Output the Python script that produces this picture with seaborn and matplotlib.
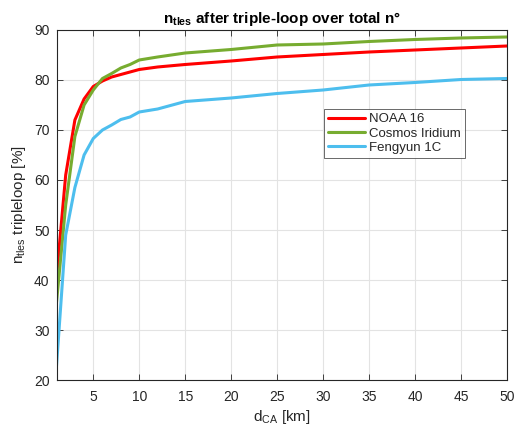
import numpy as np
import pandas as pd
import matplotlib
matplotlib.use("Agg")
import matplotlib.pyplot as plt
import seaborn as sns

# Closest-approach threshold d_CA [km]
d_ca = [1, 2, 3, 4, 5, 6, 7, 8, 9, 10, 12, 15, 20, 25, 30, 35, 40, 45, 50]

# Percentage of TLEs retained after the triple loop
noaa16 = [40.5, 61.0, 72.0, 76.2, 78.7, 79.8, 80.6, 81.1, 81.6, 82.1, 82.6, 83.1, 83.8, 84.6, 85.1, 85.6, 86.0, 86.4, 86.8]
cosmos_iridium = [35.5, 55.0, 68.7, 75.0, 78.0, 80.3, 81.3, 82.4, 83.1, 84.0, 84.6, 85.4, 86.1, 87.0, 87.2, 87.7, 88.1, 88.4, 88.6]
fengyun_1c = [22.8, 49.0, 58.5, 65.0, 68.3, 70.0, 71.0, 72.1, 72.6, 73.6, 74.2, 75.7, 76.4, 77.3, 78.0, 79.0, 79.5, 80.1, 80.3]

series_names = ["NOAA 16", "Cosmos Iridium", "Fengyun 1C"]
colors = ["#ff0000", "#77ac30", "#4dbeee"]

df = pd.DataFrame({
    "d_ca": d_ca * 3,
    "pct": noaa16 + cosmos_iridium + fengyun_1c,
    "event": [series_names[0]] * len(d_ca) + [series_names[1]] * len(d_ca) + [series_names[2]] * len(d_ca),
})

sns.set_theme(style="whitegrid")
plt.rcParams["font.family"] = ["Liberation Sans", "DejaVu Sans"]
plt.rcParams["mathtext.fontset"] = "custom"
plt.rcParams["mathtext.rm"] = "Liberation Sans"
plt.rcParams["mathtext.it"] = "Liberation Sans"
plt.rcParams["mathtext.bf"] = "Liberation Sans:bold"

fig = plt.figure(figsize=(5.16, 4.34), dpi=100)
ax = fig.add_axes([0.1095, 0.1244, 0.8731, 0.8065])

sns.lineplot(data=df, x="d_ca", y="pct", hue="event", hue_order=series_names,
             palette=colors, linewidth=2.2, ax=ax, estimator=None, sort=False)

ax.set_xlim(1, 50)
ax.set_ylim(20, 90)
ax.set_xticks(np.arange(5, 51, 5))
ax.set_yticks(np.arange(20, 91, 10))

ax.set_facecolor("white")
ax.grid(True, color="#e3e3e3", linewidth=0.8)
for side in ["left", "right", "top", "bottom"]:
    ax.spines[side].set_visible(True)
    ax.spines[side].set_color("#262626")
    ax.spines[side].set_linewidth(0.8)
ax.tick_params(direction="in", length=4, width=0.6, colors="#262626",
               top=True, right=True, bottom=True, left=True, labelsize=10,
               labelcolor="#262626")
ax.tick_params(axis="x", pad=7)
ax.tick_params(axis="y", pad=5)

ax.set_xlabel(r"d$_{\mathrm{CA}}$ [km]", fontsize=11, color="#262626", labelpad=3)
ax.set_ylabel(r"n$_{\mathrm{tles}}$ tripleloop [%]", fontsize=11, color="#262626", labelpad=4)
ax.set_title(r"n$_{\mathbf{tles}}$ after triple-loop over total n°", fontsize=11,
             fontweight="bold", color="black", pad=5)

leg = ax.legend(title=None, loc="upper left", bbox_to_anchor=(0.594, 0.774),
                fontsize=9.5, frameon=True, fancybox=False, borderpad=0.3,
                handlelength=2.8, handletextpad=0.3, labelspacing=0.15,
                borderaxespad=0)
leg.get_frame().set_edgecolor("#262626")
leg.get_frame().set_linewidth(0.6)

fig.savefig("out.png", dpi=100, facecolor="white")
